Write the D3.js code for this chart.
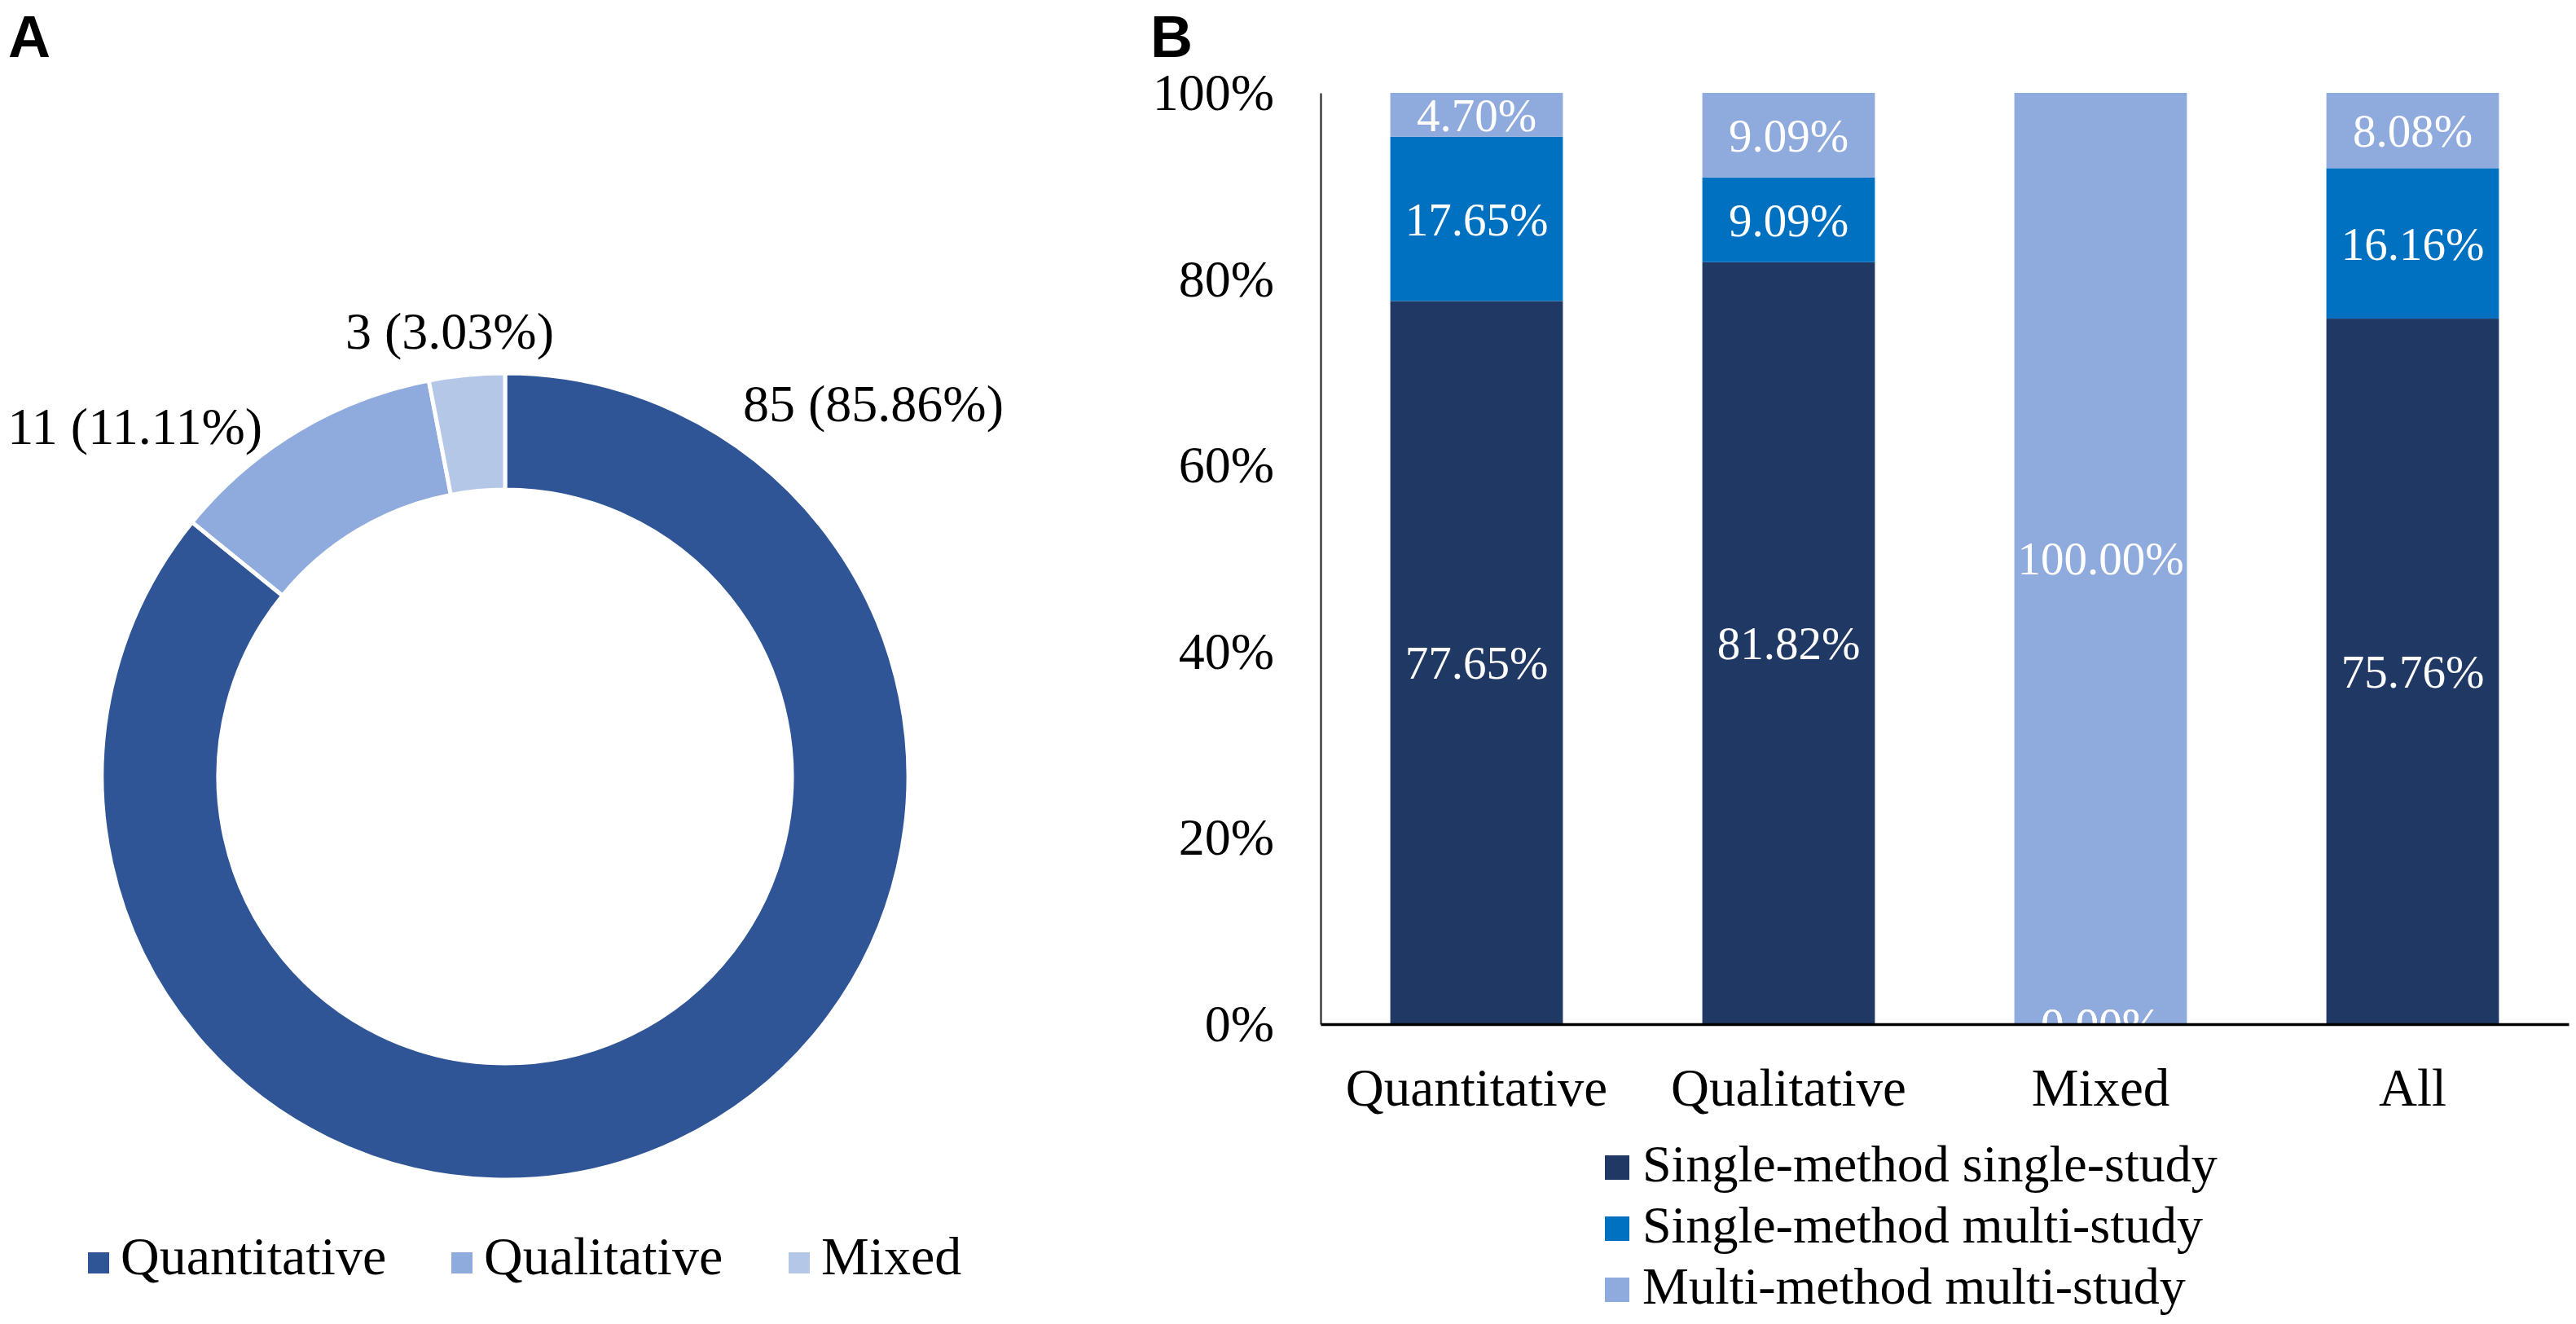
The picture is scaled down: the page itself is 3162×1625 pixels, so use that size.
<!DOCTYPE html>
<html>
<head>
<meta charset="utf-8">
<script src="https://cdn.jsdelivr.net/npm/d3@7"></script>
<style>
  body { margin: 0; background: #fff; }
  text { font-family: "Liberation Serif", "Times New Roman", serif; }
  .panel { font-family: "Liberation Sans", Arial, sans-serif; font-weight: bold; }
</style>
</head>
<body>
<div class="chart"></div>
<script>
// panel A data
var pieCategories = ["Quantitative", "Qualitative", "Mixed"];
var pieCounts = [85, 11, 3];
var pieColors = ["#2F5597", "#8FAADC", "#B4C7E7"];

// panel B data
var barCategories = ["Quantitative", "Qualitative", "Mixed", "All"];
var seriesNames = ["Single-method single-study", "Single-method multi-study", "Multi-method multi-study"];
var singleSingle = [77.65, 81.82, 0.00, 75.76];
var singleMulti = [17.65, 9.09, 0.00, 16.16];
var multiMulti = [4.70, 9.09, 100.00, 8.08];
var barColors = ["#203864", "#0070C0", "#8FAADC"];
var yTicks = [0, 20, 40, 60, 80, 100];

var W = 3162, H = 1625;
var svg = d3.select(".chart").append("svg")
  .attr("width", W)
  .attr("height", H);

svg.append("text").attr("class", "panel")
  .attr("x", 10).attr("y", 70)
  .style("font-size", "72px")
  .text("A");
svg.append("text").attr("class", "panel")
  .attr("x", 1412).attr("y", 70)
  .style("font-size", "72px")
  .text("B");

// ---------- donut ----------
var cx = 620, cy = 953, outerR = 495, innerR = 352;
var total = d3.sum(pieCounts);
var pctFmt = d3.format(".2f");

var pie = d3.pie().sort(null).value(function(d) { return d; });
var arc = d3.arc().innerRadius(innerR).outerRadius(outerR);

var gPie = svg.append("g").attr("transform", "translate(" + cx + "," + cy + ")");
gPie.selectAll("path")
  .data(pie(pieCounts))
  .enter().append("path")
  .attr("d", arc)
  .attr("fill", function(d, i) { return pieColors[i]; })
  .attr("stroke", "#fff")
  .attr("stroke-width", 5);

// label placement relative to donut centre (Excel outside-end style)
var labelPos = [
  {dx: 292, dy: -436, anchor: "start"},
  {dx: -298, dy: -408, anchor: "end"},
  {dx: -68, dy: -525, anchor: "middle"}
];
gPie.selectAll(".plabel")
  .data(pieCounts)
  .enter().append("text")
  .attr("class", "plabel")
  .attr("x", function(d, i) { return labelPos[i].dx; })
  .attr("y", function(d, i) { return labelPos[i].dy; })
  .attr("text-anchor", function(d, i) { return labelPos[i].anchor; })
  .style("font-size", "64px")
  .text(function(d) { return d + " (" + pctFmt(d / total * 100) + "%)"; });

// donut legend
var legA = svg.append("g").attr("transform", "translate(108,1564)");
var legAx = [0, 446, 860];
var legAItem = legA.selectAll("g")
  .data(pieCategories)
  .enter().append("g")
  .attr("transform", function(d, i) { return "translate(" + legAx[i] + ",0)"; });
legAItem.append("rect")
  .attr("x", 0).attr("y", -27)
  .attr("width", 26).attr("height", 26)
  .attr("fill", function(d, i) { return pieColors[i]; });
legAItem.append("text")
  .attr("x", 40).attr("y", 0)
  .style("font-size", "66px")
  .text(function(d) { return d; });

// ---------- stacked bars ----------
var x0 = 1621, x1 = 3153, yTop = 114, yBot = 1257;

var x = d3.scaleBand()
  .domain(barCategories)
  .range([x0, x1])
  .paddingInner(0.447)
  .paddingOuter(0.2235);

var y = d3.scaleLinear()
  .domain([0, 100])
  .range([yBot, yTop]);

var rows = barCategories.map(function(c, i) {
  return {cat: c, s0: singleSingle[i], s1: singleMulti[i], s2: multiMulti[i]};
});
var stack = d3.stack().keys(["s0", "s1", "s2"]);
var layers = stack(rows);

svg.append("clipPath").attr("id", "plotclip")
  .append("rect")
  .attr("x", x0).attr("y", yTop - 5)
  .attr("width", x1 - x0).attr("height", yBot - yTop + 5);

var gBars = svg.append("g").attr("clip-path", "url(#plotclip)");

gBars.selectAll(".layer")
  .data(layers)
  .enter().append("g")
  .attr("class", "layer")
  .attr("fill", function(d, i) { return barColors[i]; })
  .selectAll("rect")
  .data(function(d) { return d; })
  .enter().append("rect")
  .attr("x", function(d) { return x(d.data.cat); })
  .attr("y", function(d) { return y(d[1]); })
  .attr("width", x.bandwidth())
  .attr("height", function(d) { return y(d[0]) - y(d[1]); });

// value labels go on top of all the rects
gBars.selectAll(".vlabels")
  .data(layers)
  .enter().append("g")
  .attr("class", "vlabels")
  .selectAll("text")
  .data(function(d) { return d; })
  .enter().append("text")
  .attr("x", function(d) { return x(d.data.cat) + x.bandwidth() / 2; })
  .attr("y", function(d) { return (y(d[0]) + y(d[1])) / 2; })
  .attr("dy", "0.35em")
  .attr("text-anchor", "middle")
  .attr("fill", "#fff")
  .style("font-size", "57px")
  .text(function(d) { return pctFmt(d[1] - d[0]) + "%"; });

// y axis
var yAxis = d3.axisLeft(y)
  .tickValues(yTicks)
  .tickSize(0)
  .tickPadding(57)
  .tickFormat(function(d) { return d + "%"; });

var gy = svg.append("g")
  .attr("transform", "translate(" + x0 + ",0)")
  .call(yAxis);
gy.select(".domain").attr("stroke", "#404040").attr("stroke-width", 2.5);
gy.selectAll("text")
  .attr("fill", "#000")
  .style("font-family", "'Liberation Serif', 'Times New Roman', serif")
  .style("font-size", "64px");

// x axis
var xAxis = d3.axisBottom(x).tickSize(0).tickPadding(54);
var gx = svg.append("g")
  .attr("transform", "translate(0," + yBot + ")")
  .call(xAxis);
gx.select(".domain").attr("stroke", "#000").attr("stroke-width", 3.5);
gx.selectAll("text")
  .attr("fill", "#000")
  .style("font-family", "'Liberation Serif', 'Times New Roman', serif")
  .style("font-size", "65px");

// bar legend
var legB = svg.append("g").attr("transform", "translate(1970,1450)");
var legBItem = legB.selectAll("g")
  .data(seriesNames)
  .enter().append("g")
  .attr("transform", function(d, i) { return "translate(0," + (i * 75) + ")"; });
legBItem.append("rect")
  .attr("x", 0).attr("y", -32)
  .attr("width", 30).attr("height", 30)
  .attr("fill", function(d, i) { return barColors[i]; });
legBItem.append("text")
  .attr("x", 46).attr("y", 0)
  .style("font-size", "64px")
  .text(function(d) { return d; });
</script>
</body>
</html>
